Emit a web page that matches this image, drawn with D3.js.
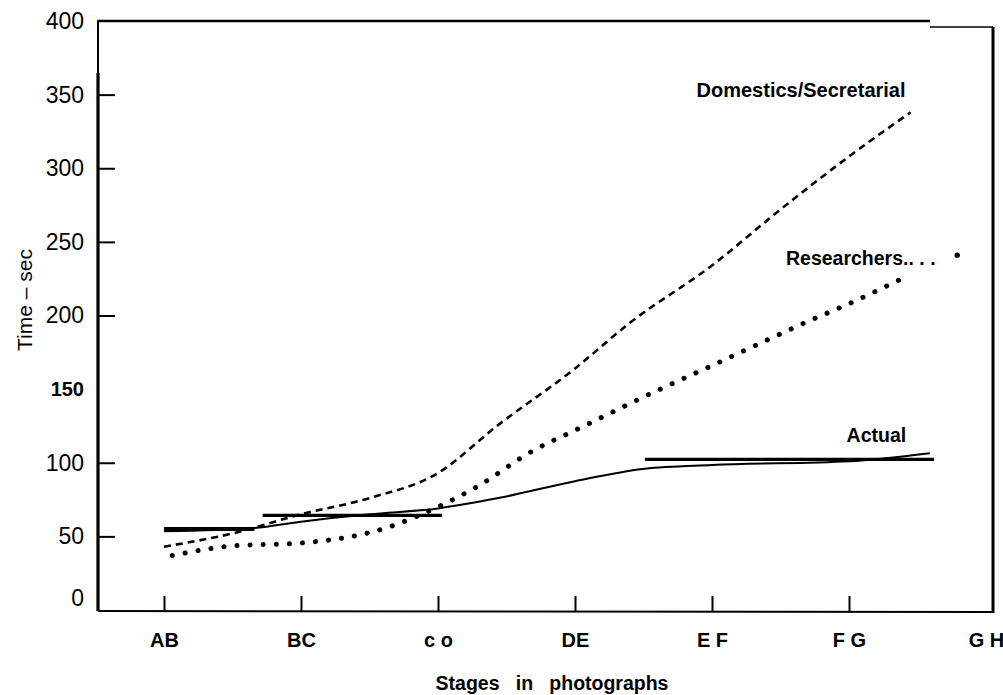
<!DOCTYPE html>
<html>
<head>
<meta charset="utf-8">
<script src="https://cdn.jsdelivr.net/npm/d3@7"></script>
<style>
  body { margin: 0; background: #fff; }
  text { font-family: "Liberation Sans", Arial, Helvetica, sans-serif; fill: #000; }
</style>
</head>
<body>
<svg id="chart" width="1003" height="695"></svg>
<script>
// stage labels on the x axis and y ticks
const stages = ["AB", "BC", "c o", "DE", "E F", "F G", "G H"];
const yTicks = [0, 50, 100, 150, 200, 250, 300, 350, 400];

// series: x is position in stage units (0 = AB), y is time in sec
const actualX = [0, 0.66, 1, 1.5, 2, 2.44, 3, 3.51, 4, 5, 5.59];
const actualY = [53.5, 55.7, 60, 65, 69, 76, 87.5, 96, 98.5, 101, 106.5];
const domesticX = [0, 0.5, 1, 1.5, 2, 2.43, 3, 3.4, 4, 4.5, 5, 5.45];
const domesticY = [43, 52, 65, 76, 93, 125, 164, 195, 234, 272, 308, 338];
const researchX = [0.06, 0.5, 1, 1.63, 2, 2.28, 2.69, 3, 3.6, 4, 4.74, 5, 5.43];
const researchY = [37, 43.5, 45.5, 56, 70, 83.5, 108, 122, 149, 166, 197.6, 208, 227];
const researchTailX = [5.79];
const researchTailY = [241];

// measured (horizontal) stage bars
const barFrom = [0, 0.72, 3.51];
const barTo = [0.66, 2.03, 5.62];
const barValue = [55, 64.3, 102.3];

var svg = d3.select("#chart");
var plotLeft = 98, plotRight = 993, plotTop = 21, plotBottom = 611;

var x = d3.scaleLinear().domain([0, 6]).range([164, 986]);
var y = d3.scaleLinear().domain([0, 400]).range([610, 21]);

// frame
svg.append("line").attr("x1", plotLeft).attr("x2", plotLeft).attr("y1", plotTop - 1).attr("y2", plotBottom)
  .attr("stroke", "#000").attr("stroke-width", 2);
svg.append("line").attr("x1", plotLeft).attr("x2", plotLeft).attr("y1", 73).attr("y2", plotBottom)
  .attr("stroke", "#000").attr("stroke-width", 3.2);
svg.append("line").attr("x1", plotLeft).attr("x2", 930).attr("y1", plotTop).attr("y2", plotTop)
  .attr("stroke", "#000").attr("stroke-width", 2.5);
svg.append("line").attr("x1", 930).attr("x2", plotRight).attr("y1", 27).attr("y2", 27)
  .attr("stroke", "#000").attr("stroke-width", 1.5);
svg.append("line").attr("x1", plotRight).attr("x2", plotRight).attr("y1", 27).attr("y2", plotBottom + 2)
  .attr("stroke", "#000").attr("stroke-width", 3);
svg.append("line").attr("x1", plotLeft).attr("x2", plotRight).attr("y1", plotBottom).attr("y2", plotBottom + 1)
  .attr("stroke", "#000").attr("stroke-width", 2);

// y axis
var yAxis = svg.append("g").attr("transform", `translate(${plotLeft},0)`)
  .call(d3.axisLeft(y).tickValues(yTicks).tickSize(-17).tickPadding(14));
yAxis.select(".domain").remove();
yAxis.selectAll(".tick line").attr("stroke", "#000").attr("stroke-width", 2)
  .filter(d => d == 0 || d == 150 || d == 400).remove();
yAxis.selectAll(".tick text").attr("font-size", 23).attr("fill", "#000")
  .style("font-family", '"Liberation Sans", Arial, sans-serif');
yAxis.selectAll(".tick text").filter(d => d == 150)
  .attr("font-size", 20).attr("font-weight", "bold");
yAxis.selectAll(".tick text").filter(d => d == 0).attr("dy", "-0.2em");

// x axis
var xAxis = svg.append("g").attr("transform", `translate(0,${plotBottom})`)
  .call(d3.axisBottom(x).tickValues(d3.range(stages.length))
    .tickFormat(i => stages[i]).tickSize(-15).tickPadding(22));
xAxis.select(".domain").remove();
xAxis.selectAll(".tick line").attr("stroke", "#000").attr("stroke-width", 2)
  .filter(d => d == 6).remove();
xAxis.selectAll(".tick text").attr("font-size", 20).attr("font-weight", "bold").attr("fill", "#000")
  .style("font-family", '"Liberation Sans", Arial, sans-serif');

// axis titles
svg.append("text")
  .attr("x", 552).attr("y", 683).attr("dy", "0.35em")
  .attr("text-anchor", "middle").attr("font-size", 19.5).attr("font-weight", "bold")
  .attr("xml:space", "preserve").style("white-space", "pre")
  .text("Stages   in   photographs");
svg.append("text")
  .attr("transform", "translate(25,300) rotate(-90)").attr("dy", "0.35em")
  .attr("text-anchor", "middle").attr("font-size", 21)
  .text("Time – sec");

// lines
var line = d3.line().x(d => x(d[0])).y(d => y(d[1])).curve(d3.curveMonotoneX);

svg.append("path").datum(d3.zip(actualX, actualY))
  .attr("d", line).attr("fill", "none").attr("stroke", "#000").attr("stroke-width", 2);

svg.append("path").datum(d3.zip(domesticX, domesticY))
  .attr("d", line).attr("fill", "none").attr("stroke", "#000").attr("stroke-width", 2.6)
  .attr("stroke-dasharray", "7,5");

svg.append("path").datum(d3.zip(researchX, researchY))
  .attr("d", line).attr("fill", "none").attr("stroke", "#000").attr("stroke-width", 5)
  .attr("stroke-linecap", "round").attr("stroke-dasharray", "0.1,13");

svg.selectAll(".tail").data(d3.zip(researchTailX, researchTailY)).enter()
  .append("circle").attr("class", "tail")
  .attr("cx", d => x(d[0])).attr("cy", d => y(d[1])).attr("r", 2.7).attr("fill", "#000");

// measured bars
svg.selectAll(".bar").data(d3.range(barValue.length)).enter()
  .append("line").attr("class", "bar")
  .attr("x1", i => x(barFrom[i])).attr("x2", i => x(barTo[i]))
  .attr("y1", i => y(barValue[i])).attr("y2", i => y(barValue[i]))
  .attr("stroke", "#000").attr("stroke-width", i => i == 0 ? 4 : 3.2);

// series labels
svg.append("text").attr("x", x(4.65)).attr("y", y(353)).attr("dy", "0.35em")
  .attr("text-anchor", "middle").attr("font-size", 20).attr("font-weight", "bold")
  .text("Domestics/Secretarial");
svg.append("text").attr("x", x(4.54)).attr("y", y(239)).attr("dy", "0.35em")
  .attr("font-size", 19.5).attr("font-weight", "bold")
  .attr("xml:space", "preserve").style("white-space", "pre")
  .text("Researchers.. . .");
svg.append("text").attr("x", x(5.2)).attr("y", y(119)).attr("dy", "0.35em")
  .attr("text-anchor", "middle").attr("font-size", 19.5).attr("font-weight", "bold")
  .text("Actual");
</script>
</body>
</html>
